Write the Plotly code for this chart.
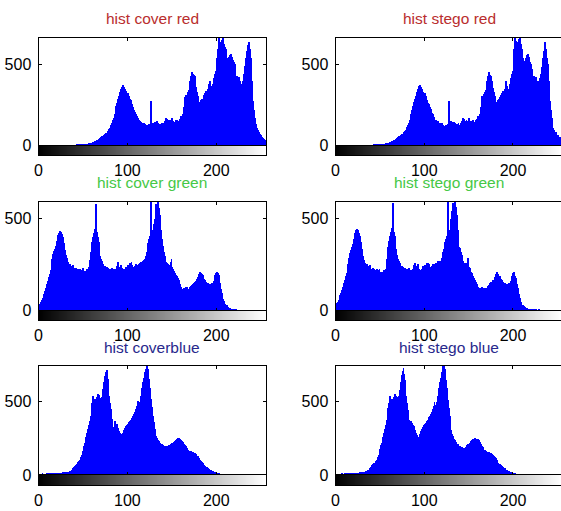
import plotly.graph_objects as go

# ---------------- data ----------------
bins = list(range(256))
gray_levels = list(range(256))

cover_red = (
    [0] * 32 +
    [0, 0, 0, 0, 0, 0, 1, 1, 2, 3, 2, 4, 5, 6, 5, 7,
     8, 7, 9, 10, 9, 11, 12, 11, 13, 14, 16, 15, 18, 20, 22, 25,
     30, 33, 36, 40, 44, 48, 52, 56, 60, 65, 70, 75, 80, 85, 90, 100,
     110, 125, 140, 160, 172, 195, 220, 245, 265, 290, 307, 330, 350, 365, 375, 370,
     362, 348, 335, 318, 325, 305, 290, 280, 262, 255, 240, 222, 205, 193, 180, 170,
     160, 156, 150, 148, 140, 138, 142, 135, 128, 125, 122, 120, 130, 126, 276, 140,
     135, 142, 148, 138, 145, 150, 140, 135, 128, 132, 138, 130, 125, 140, 150, 172,
     165, 155, 148, 160, 152, 145, 170, 150, 148, 142, 155, 160, 145, 150, 158, 165,
     180, 185, 193, 240, 297, 310, 300, 320, 328, 345, 400, 430, 452, 445, 435, 430,
     400, 360, 330, 307, 255, 270, 280, 286, 286, 300, 310, 325, 338, 330, 350, 380,
     400, 370, 350, 338, 380, 420, 440, 462, 540, 600, 680, 650, 628, 640, 655, 680,
     630, 610, 598, 540, 494, 520, 545, 560, 566, 545, 530, 515, 504, 470, 421, 430,
     425, 421, 400, 359, 380, 400, 420, 442, 490, 540, 587, 620, 640, 600, 540, 504,
     400, 276, 220, 170, 130, 110, 95, 85, 79, 70, 62, 55, 48, 42, 36, 30]
)

stego_red = (
    [0] * 32 +
    [0, 0, 0, 0, 0, 0, 0, 1, 2, 2, 3, 4, 4, 6, 6, 7,
     8, 8, 9, 9, 10, 11, 11, 12, 13, 15, 15, 16, 18, 19, 23, 25,
     29, 34, 36, 41, 43, 49, 51, 57, 61, 64, 71, 74, 81, 84, 91, 99,
     112, 124, 141, 158, 174, 193, 222, 243, 267, 288, 309, 328, 352, 363, 370, 372,
     360, 350, 333, 320, 322, 307, 288, 282, 260, 257, 238, 224, 203, 195, 178, 172,
     158, 158, 148, 150, 138, 140, 140, 137, 126, 127, 120, 122, 128, 128, 132, 278,
     138, 140, 150, 136, 147, 148, 142, 133, 130, 130, 140, 128, 127, 138, 152, 170,
     167, 153, 150, 158, 154, 143, 172, 148, 150, 140, 157, 158, 147, 148, 160, 163,
     182, 183, 195, 238, 299, 308, 302, 318, 330, 343, 402, 428, 454, 443, 437, 428,
     402, 358, 332, 305, 257, 268, 282, 284, 288, 298, 312, 323, 340, 328, 352, 378,
     402, 368, 352, 336, 382, 418, 442, 460, 542, 598, 680, 648, 630, 638, 657, 680,
     628, 612, 596, 542, 492, 522, 543, 562, 564, 547, 528, 517, 502, 472, 419, 432,
     423, 423, 398, 361, 378, 402, 418, 444, 488, 542, 585, 622, 642, 598, 542, 502,
     402, 274, 222, 168, 132, 108, 97, 83, 81, 68, 64, 53, 50, 40, 38, 28]
)

cover_green = [
    34, 40, 48, 58, 70, 82, 94, 110, 125, 148, 165, 185, 200, 220, 250, 280,
    310, 325, 338, 350, 380, 410, 420, 425, 431, 428, 415, 400, 370, 330, 301, 285,
    275, 265, 247, 255, 242, 238, 250, 232, 228, 220, 235, 225, 218, 225, 230, 215,
    222, 235, 210, 202, 215, 208, 225, 220, 240, 274, 320, 345, 374, 400, 420, 446,
    581, 428, 400, 374, 340, 300, 283, 270, 255, 238, 245, 232, 240, 229, 235, 225,
    228, 220, 232, 215, 225, 211, 218, 230, 245, 265, 240, 238, 250, 232, 225, 215,
    218, 230, 240, 235, 247, 250, 258, 262, 265, 250, 240, 238, 245, 252, 245, 248,
    255, 260, 258, 265, 262, 270, 275, 283, 300, 320, 340, 370, 392, 405, 590, 410,
    440, 470, 500, 540, 581, 575, 600, 560, 518, 440, 392, 350, 338, 320, 300, 265,
    262, 255, 250, 247, 265, 283, 240, 229, 215, 205, 193, 188, 180, 166, 158, 145,
    130, 121, 118, 125, 122, 130, 128, 125, 120, 121, 128, 135, 142, 148, 150, 155,
    157, 165, 172, 184, 200, 211, 205, 200, 193, 185, 175, 166, 158, 150, 152, 148,
    148, 145, 150, 148, 152, 160, 193, 205, 211, 208, 195, 175, 150, 121, 95, 67,
    52, 40, 34, 30, 26, 22, 18, 15, 12, 10, 9, 8, 7, 6, 6, 5,
    5, 5, 5, 4, 5, 5, 4, 5, 4, 3, 0, 0, 0, 0, 0, 0,
    0, 0, 0, 0, 0, 0, 0, 0, 0, 0, 0, 0, 0, 0, 0, 0]

stego_green = [
    32, 42, 50, 60, 72, 85, 96, 112, 128, 150, 168, 188, 205, 225, 255, 285,
    315, 330, 345, 360, 390, 420, 432, 440, 446, 440, 420, 405, 372, 335, 300, 290,
    278, 262, 250, 252, 245, 236, 248, 230, 225, 222, 232, 228, 215, 222, 228, 212,
    220, 230, 212, 205, 212, 210, 222, 218, 230, 283, 315, 348, 378, 405, 425, 450,
    585, 430, 405, 372, 338, 302, 280, 268, 258, 240, 242, 235, 238, 230, 232, 228,
    230, 218, 235, 212, 222, 214, 220, 228, 248, 262, 242, 236, 252, 230, 228, 212,
    220, 228, 242, 232, 248, 248, 260, 260, 262, 252, 238, 240, 242, 255, 242, 250,
    252, 262, 255, 268, 260, 272, 272, 285, 298, 322, 338, 372, 390, 408, 588, 412,
    438, 472, 498, 542, 585, 572, 600, 562, 520, 438, 395, 348, 340, 318, 303, 268,
    260, 258, 248, 250, 262, 285, 238, 232, 212, 208, 190, 190, 178, 168, 155, 148,
    128, 124, 115, 127, 120, 132, 126, 127, 118, 123, 126, 137, 140, 150, 148, 157,
    155, 167, 170, 186, 198, 213, 203, 202, 190, 187, 173, 168, 156, 152, 150, 150,
    146, 147, 148, 150, 150, 162, 190, 208, 210, 210, 192, 178, 148, 123, 92, 70,
    50, 42, 32, 31, 25, 23, 17, 16, 11, 11, 8, 9, 6, 7, 5, 6,
    4, 6, 4, 5, 4, 6, 3, 5, 3, 4, 2, 0, 0, 0, 0, 0,
    0, 0, 0, 0, 0, 0, 0, 0, 0, 0, 0, 0, 0, 0, 0, 0]

cover_blue = [
    8, 10, 12, 10, 14, 12, 11, 13, 12, 14, 11, 15, 13, 14, 12, 15,
    14, 16, 15, 14, 17, 16, 18, 17, 19, 18, 20, 21, 20, 23, 22, 25,
    24, 26, 27, 30, 33, 38, 50, 55, 62, 68, 73, 80, 88, 96, 107, 125,
    140, 163, 185, 200, 220, 260, 290, 311, 340, 370, 402, 450, 493, 538, 520, 515,
    515, 530, 549, 545, 538, 525, 515, 530, 583, 630, 674, 700, 715, 690, 651, 538,
    490, 447, 380, 330, 311, 368, 360, 350, 345, 320, 300, 290, 277, 280, 290, 300,
    310, 320, 334, 340, 350, 360, 368, 372, 380, 390, 402, 415, 430, 447, 470, 504,
    480, 470, 500, 538, 590, 629, 660, 697, 720, 750, 760, 720, 651, 590, 515, 460,
    402, 360, 311, 285, 270, 254, 240, 232, 220, 215, 212, 209, 205, 200, 198, 198,
    200, 202, 205, 209, 212, 216, 218, 220, 228, 235, 243, 248, 252, 254, 250, 248,
    243, 235, 225, 215, 209, 200, 188, 175, 172, 168, 165, 163, 160, 158, 155, 152,
    148, 142, 135, 129, 118, 105, 95, 88, 82, 78, 73, 66, 60, 55, 50, 45,
    40, 37, 34, 31, 28, 25, 22, 20, 18, 16, 15, 14, 13, 12, 12, 11,
    10, 9, 8, 7, 7, 6, 6, 5, 5, 5, 5, 4, 5, 4, 5, 4,
    3, 3, 2, 2, 2, 1, 1, 1, 0, 0, 0, 0, 0, 0, 0, 0,
    0, 0, 0, 0, 0, 0, 0, 0, 0, 0, 0, 0, 0, 0, 0, 0]

stego_blue = [
    9, 11, 10, 12, 13, 11, 12, 14, 13, 12, 14, 13, 15, 12, 14, 16,
    15, 14, 16, 17, 15, 18, 17, 19, 18, 20, 19, 22, 21, 22, 24, 23,
    26, 25, 28, 31, 35, 40, 48, 57, 60, 70, 75, 82, 86, 98, 105, 128,
    138, 165, 182, 205, 218, 262, 288, 315, 338, 372, 400, 455, 490, 540, 518, 512,
    518, 528, 552, 540, 535, 528, 512, 535, 580, 635, 678, 705, 724, 688, 648, 540,
    488, 445, 378, 332, 308, 365, 355, 340, 335, 310, 290, 275, 262, 254, 262, 280,
    298, 315, 330, 338, 345, 358, 365, 370, 378, 392, 400, 418, 428, 450, 468, 500,
    478, 472, 498, 540, 592, 630, 662, 700, 722, 752, 758, 718, 648, 592, 512, 458,
    400, 362, 308, 282, 268, 250, 238, 228, 209, 212, 208, 200, 198, 192, 190, 186,
    188, 186, 190, 196, 205, 212, 216, 222, 230, 238, 245, 250, 254, 252, 250, 245,
    245, 238, 228, 214, 206, 198, 190, 172, 170, 166, 162, 160, 158, 156, 152, 150,
    146, 140, 132, 126, 115, 102, 92, 85, 80, 75, 70, 64, 58, 52, 48, 43,
    38, 35, 32, 30, 26, 24, 21, 19, 17, 15, 14, 13, 12, 11, 11, 10,
    9, 8, 8, 7, 6, 6, 5, 5, 4, 5, 4, 4, 3, 4, 3, 3,
    2, 2, 2, 1, 1, 1, 0, 1, 0, 0, 0, 0, 0, 0, 0, 0,
    0, 0, 0, 0, 0, 0, 0, 0, 0, 0, 0, 0, 0, 0, 0, 0]

titles = ["hist cover red", "hist stego red",
          "hist cover green", "hist stego green",
          "hist coverblue", "hist stego blue"]
title_colors = ["rgb(185,45,45)", "rgb(185,45,45)",
                "rgb(70,200,70)", "rgb(70,200,70)",
                "rgb(40,40,140)", "rgb(40,40,140)"]
series = [cover_red, stego_red, cover_green, stego_green, cover_blue, stego_blue]
y_tick_vals = [0, 500]
x_tick_vals = [0, 100, 200]
row_ymax = [665, 590, 740]

# ---------------- layout geometry (pixels) ----------------
W, H = 561, 511
rows = [dict(top=38, zero=145.5, cbar=155, title=18),
        dict(top=201.5, zero=310.5, cbar=320, title=182),
        dict(top=365.5, zero=475, cbar=485, title=347)]
cols = [dict(left=38.5, right=266.1, xmax=256),
        dict(left=335.5, right=561, xmax=254.1)]

FONT = "Liberation Sans, Arial, sans-serif"
TICK_SIZE = 16
TITLE_SIZE = 15.5

def yf(px):
    return 1 - px / H

fig = go.Figure()
layout = dict(width=W, height=H, margin=dict(l=0, r=0, t=0, b=0, autoexpand=False),
              paper_bgcolor="white", plot_bgcolor="white",
              showlegend=False, bargap=0, annotations=[])

for k in range(6):
    r, c = divmod(k, 2)
    R, C = rows[r], cols[c]
    nh, nc = 2 * k + 1, 2 * k + 2
    xd = [C["left"] / W, min(C["right"] / W, 1)]
    fig.add_trace(go.Bar(x=bins, y=series[k], width=1,
                         marker=dict(color="#0000ff", line=dict(width=0)),
                         xaxis=f"x{nh}", yaxis=f"y{nh}", hoverinfo="skip"))
    fig.add_trace(go.Heatmap(z=[gray_levels], x=gray_levels,
                             colorscale=[[0, "black"], [1, "white"]],
                             zmin=0, zmax=255, showscale=False,
                             xaxis=f"x{nc}", yaxis=f"y{nc}", hoverinfo="skip"))
    mir = "ticks" if c == 0 else False
    layout[f"xaxis{nh}"] = dict(domain=xd, range=[0, C["xmax"]], anchor=f"y{nh}",
                                showline=True, linecolor="black", linewidth=1,
                                mirror="ticks", ticks="inside", ticklen=3,
                                tickcolor="black", tickvals=x_tick_vals,
                                showticklabels=False, showgrid=False, zeroline=False)
    layout[f"yaxis{nh}"] = dict(domain=[yf(R["zero"]), yf(R["top"])],
                                range=[0, row_ymax[r]], anchor=f"x{nh}",
                                showline=True, linecolor="black", linewidth=1,
                                mirror=mir, ticks="inside", ticklen=3,
                                tickcolor="black", tickvals=y_tick_vals,
                                tickfont=dict(family=FONT, size=TICK_SIZE, color="black"),
                                ticklabelstandoff=3,
                                showgrid=False, zeroline=False)
    layout[f"xaxis{nc}"] = dict(domain=xd, range=[0, C["xmax"]], anchor=f"y{nc}",
                                showline=True, linecolor="black", linewidth=1,
                                mirror=True, ticks="", tickvals=x_tick_vals,
                                tickfont=dict(family=FONT, size=TICK_SIZE, color="black"),
                                ticklabelstandoff=1,
                                showgrid=False, zeroline=False)
    layout[f"yaxis{nc}"] = dict(domain=[yf(R["cbar"]), yf(R["zero"])],
                                range=[-0.5, 0.5], anchor=f"x{nc}",
                                showline=True, linecolor="black", linewidth=1,
                                mirror=(c == 0), showticklabels=False, ticks="",
                                showgrid=False, zeroline=False)
    cx = (C["left"] + (C["left"] + 227.5)) / 2
    layout["annotations"].append(dict(
        text=titles[k], x=cx / W, y=yf(R["title"]), xref="paper", yref="paper",
        xanchor="center", yanchor="middle", showarrow=False,
        font=dict(family=FONT, size=TITLE_SIZE, color=title_colors[k])))

fig.update_layout(**layout)
fig.write_html("out.html",
               config={"displayModeBar": False},
               post_script="document.body.style.margin='0';"
                           "document.body.style.overflow='hidden';")
